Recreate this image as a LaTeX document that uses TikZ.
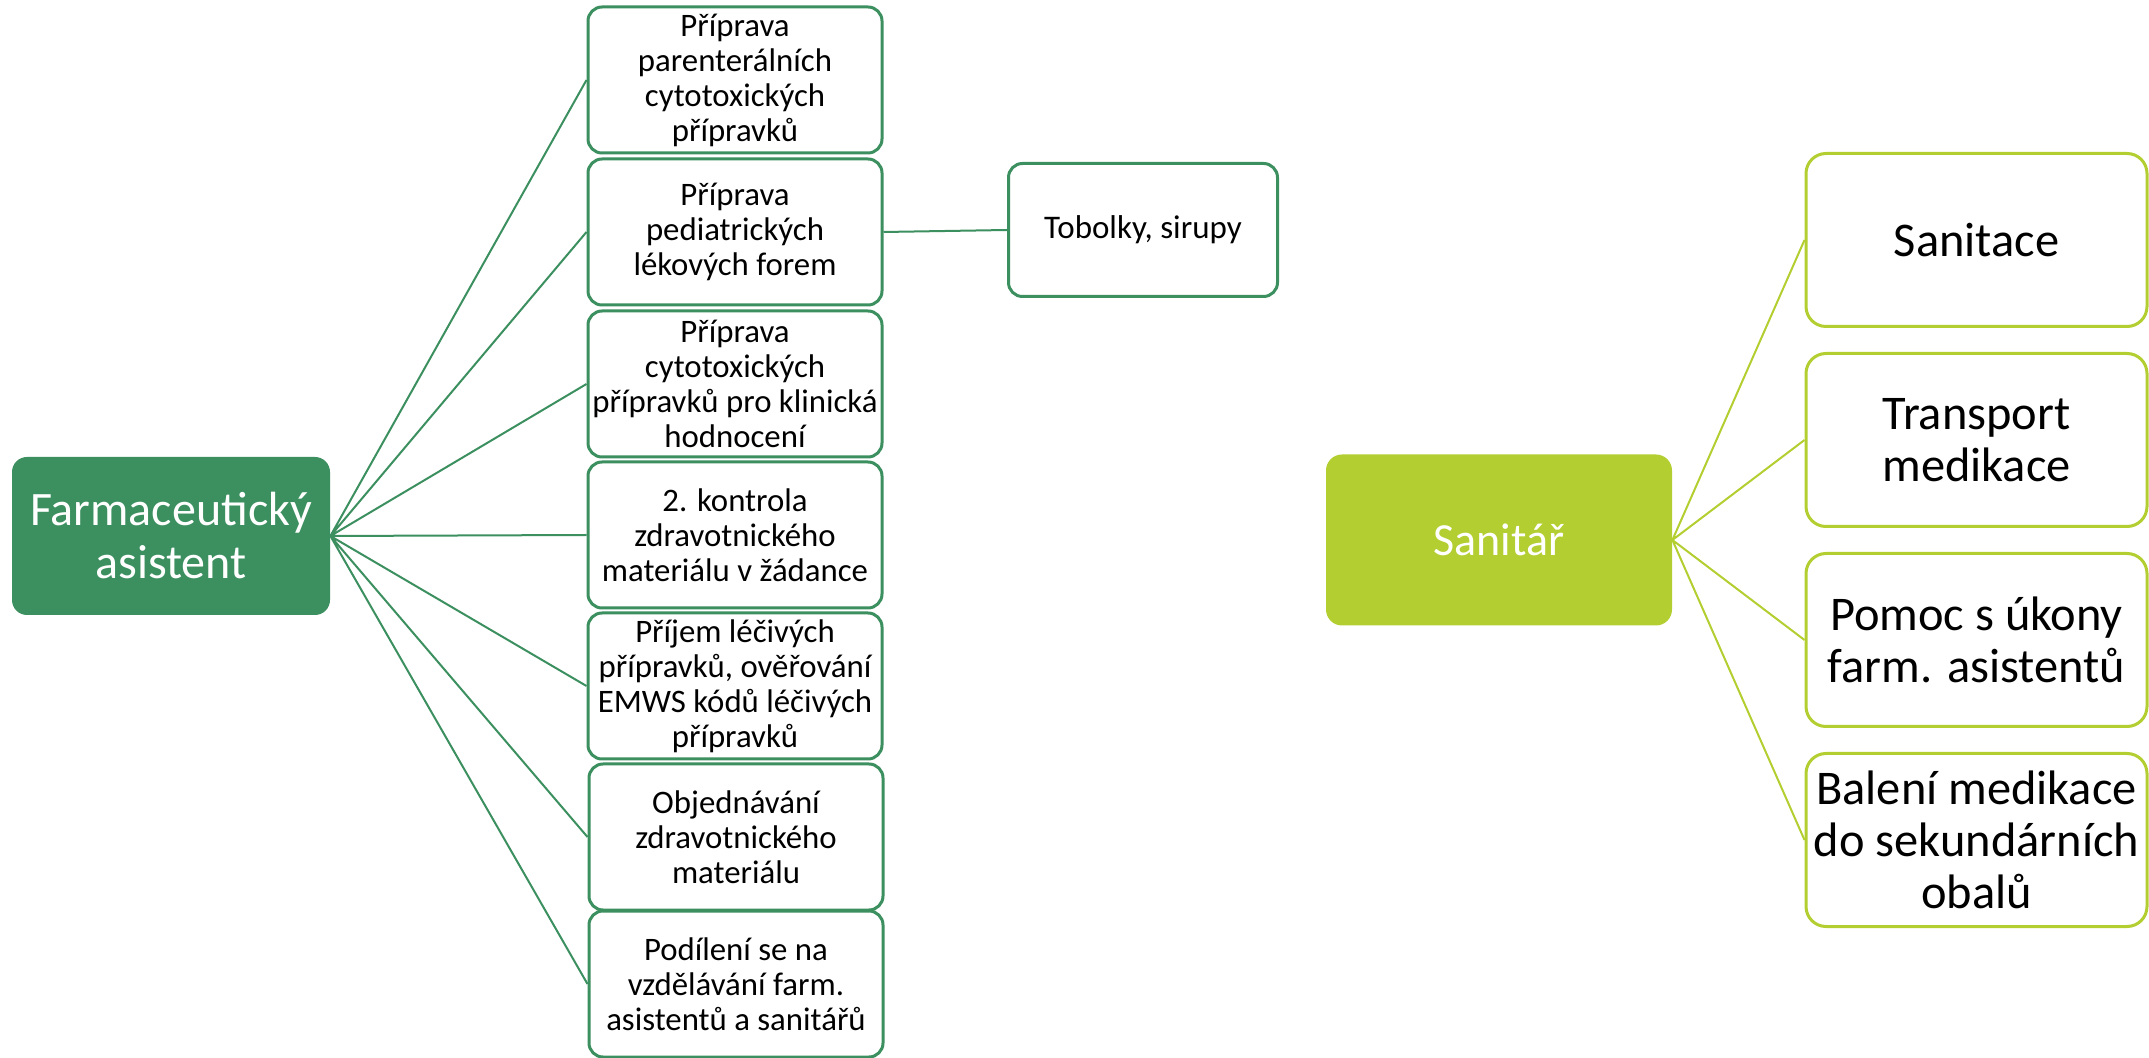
\documentclass[tikz,border=0pt]{standalone}
\usepackage{fontspec}
\setmainfont{Carlito}
\definecolor{fagreen}{RGB}{60,143,95}
\definecolor{salime}{RGB}{179,206,48}
\tikzset{
  fahead/.style={fill=fagreen, text=white, rounded corners=7.5pt, align=center, inner sep=1pt,
    minimum width=159pt, minimum height=79pt, font=\fontsize{24pt}{26.5pt}\selectfont},
  fastep/.style={draw=fagreen, line width=1.5pt, fill=white, rounded corners=7pt, align=center, inner sep=0.5pt,
    minimum width=147pt, minimum height=73pt, font=\fontsize{16.4pt}{17.5pt}\selectfont},
  faline/.style={draw=fagreen, line width=1pt},
  sahead/.style={fill=salime, text=white, rounded corners=8pt, align=center, inner sep=1pt,
    minimum width=173pt, minimum height=85.5pt, font=\fontsize{23pt}{26pt}\selectfont},
  sastep/.style={draw=salime, line width=1.5pt, fill=white, rounded corners=10pt, align=center, inner sep=1pt,
    minimum width=170.5pt, minimum height=86.5pt, font=\fontsize{24.2pt}{26pt}\selectfont},
  saline/.style={draw=salime, line width=1pt}
}

\begin{document}
\begin{tikzpicture}[x=0.5pt, y=-0.5pt]
    \useasboundingbox (0,0) rectangle (2149,1058);
    \node[fahead] (fa) at (171,536) {Farmaceutický\\asistent};
    \node[fastep] (f1) at (735,80) {Příprava\\parenterálních\\cytotoxických\\přípravků};
    \node[fastep] (f2) at (735,232) {Příprava\\pediatrických\\lékových forem};
    \node[fastep] (f3) at (735,384) {Příprava\\cytotoxických\\přípravků pro klinická\\hodnocení};
    \node[fastep] (f4) at (735,535) {2. kontrola\\zdravotnického\\materiálu v žádance};
    \node[fastep] (f5) at (735,686) {Příjem léčivých\\přípravků, ověřování\\EMWS kódů léčivých\\přípravků};
    \node[fastep] (f6) at (736,837) {Objednávání\\zdravotnického\\materiálu};
    \node[fastep] (f7) at (736,984) {Podílení se na\\vzdělávání farm.\\asistentů a sanitářů};
    \node[fastep, minimum width=134.5pt, minimum height=66.5pt, font=\fontsize{16.5pt}{17.5pt}\selectfont] (tob) at (1143,230) {Tobolky, sirupy};
    \draw[faline] (fa.east) -- (f1.west) (fa.east) -- (f2.west) (fa.east) -- (f3.west)
        (fa.east) -- (f4.west) (fa.east) -- (f5.west) (fa.east) -- (f6.west) (fa.east) -- (f7.west);
    \draw[faline] (f2.east) -- (tob.west);
    \node[sahead] (sa) at (1499,540) {Sanitář};
    \node[sastep] (s1) at (1976.5,240) {Sanitace};
    \node[sastep] (s2) at (1976.5,440) {Transport\\medikace};
    \node[sastep] (s3) at (1976.5,640) {Pomoc s úkony\\farm. asistentů};
    \node[sastep] (s4) at (1976.5,840) {Balení medikace\\do sekundárních\\obalů};
    \draw[saline] (sa.east) -- (s1.west) (sa.east) -- (s2.west) (sa.east) -- (s3.west) (sa.east) -- (s4.west);
\end{tikzpicture}
\end{document}
